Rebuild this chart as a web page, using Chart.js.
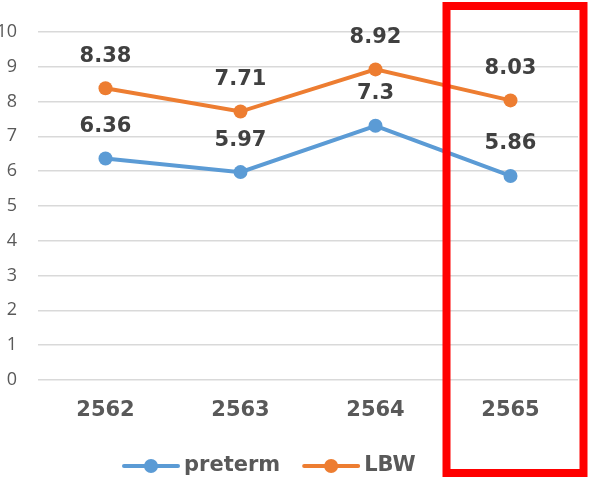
<!DOCTYPE html>
<html>
<head>
<meta charset="utf-8">
<script src="https://cdn.jsdelivr.net/npm/chart.js@4.4.1/dist/chart.umd.min.js"></script>
<style>
  html, body { margin: 0; padding: 0; background: #ffffff; }
  #wrap { width: 589px; height: 482px; position: relative; }
</style>
</head>
<body>
<div id="wrap"><canvas id="c" width="589" height="482"></canvas></div>
<script>
// Years (Buddhist era) and rates per series
const years = ['2562', '2563', '2564', '2565'];
const preterm = [6.36, 5.97, 7.3, 5.86];
const lbw = [8.38, 7.71, 8.92, 8.03];
const yTicks = [0, 1, 2, 3, 4, 5, 6, 7, 8, 9, 10];

const BLUE = '#5B9BD5';
const ORANGE = '#ED7D31';
const TEXT = '#595959';
const BOLD_FONT = '"DejaVu Sans", Verdana, sans-serif';
const TICK_FONT = '"Open Sans", "Liberation Sans", sans-serif';

// Value labels above each point
const valueLabels = {
  id: 'valueLabels',
  afterDatasetsDraw(chart) {
    const ctx = chart.ctx;
    ctx.save();
    ctx.font = 'bold 21px ' + BOLD_FONT;
    ctx.fillStyle = '#404040';
    ctx.textAlign = 'center';
    ctx.textBaseline = 'middle';
    chart.data.datasets.forEach((ds, i) => {
      chart.getDatasetMeta(i).data.forEach((pt, j) => {
        ctx.fillText(String(ds.data[j]), pt.x, pt.y - 32);
      });
    });
    ctx.restore();
  }
};

// Legend below the axis: line-with-dot symbol followed by the series name
const bottomLegend = {
  id: 'bottomLegend',
  afterDraw(chart) {
    const ctx = chart.ctx;
    const y = chart.height - 16;
    let x = chart.chartArea.left + 86;
    ctx.save();
    ctx.font = 'bold 21px ' + BOLD_FONT;
    ctx.textBaseline = 'middle';
    ctx.textAlign = 'left';
    chart.data.datasets.forEach((ds, i) => {
      const c = ds.borderColor;
      ctx.strokeStyle = c;
      ctx.lineWidth = 4;
      ctx.lineCap = 'round';
      ctx.beginPath(); ctx.moveTo(x, y); ctx.lineTo(x + 54, y); ctx.stroke();
      ctx.fillStyle = c;
      ctx.beginPath(); ctx.arc(x + 27, y, 7, 0, Math.PI * 2); ctx.fill();
      x += 54 + 6;
      ctx.fillStyle = TEXT;
      ctx.fillText(ds.label, x, y);
      x += ctx.measureText(ds.label).width + 24;
    });
    ctx.restore();
  }
};

// Highlight frame around the last year
const highlight = {
  id: 'highlight',
  afterDraw(chart) {
    const ctx = chart.ctx;
    const cx = chart.scales.x.getPixelForValue(3);
    ctx.save();
    ctx.strokeStyle = '#FF0000';
    ctx.lineWidth = 8;
    ctx.strokeRect(cx - 64, 6, 137, 467);
    ctx.restore();
  }
};

new Chart(document.getElementById('c'), {
  type: 'line',
  data: {
    labels: years,
    datasets: [
      {
        label: 'preterm',
        data: preterm,
        borderColor: BLUE,
        backgroundColor: BLUE,
        borderWidth: 4,
        pointRadius: 7,
        pointHoverRadius: 7,
        pointBackgroundColor: BLUE,
        pointBorderWidth: 0,
        tension: 0
      },
      {
        label: 'LBW',
        data: lbw,
        borderColor: ORANGE,
        backgroundColor: ORANGE,
        borderWidth: 4,
        pointRadius: 7,
        pointHoverRadius: 7,
        pointBackgroundColor: ORANGE,
        pointBorderWidth: 0,
        tension: 0
      }
    ]
  },
  options: {
    responsive: false,
    animation: false,
    layout: { padding: { left: 0, right: 11, top: 22, bottom: 52 } },
    plugins: {
      tooltip: { enabled: false },
      legend: { display: false }
    },
    scales: {
      x: {
        offset: true,
        grid: { display: false, drawTicks: false },
        border: { display: false },
        ticks: {
          color: TEXT,
          padding: 18,
          font: { family: BOLD_FONT, size: 21, weight: 'bold' }
        },
        afterFit(s) { s.height = 50; }
      },
      y: {
        min: 0,
        max: 10,
        afterBuildTicks(s) { s.ticks = yTicks.map(v => ({ value: v })); },
        grid: { color: '#D9D9D9', lineWidth: 1.5, drawTicks: false },
        border: { display: false },
        ticks: {
          color: TEXT,
          padding: 21,
          font: { family: TICK_FONT, size: 18 }
        },
        afterFit(s) { s.width = 38; }
      }
    }
  },
  plugins: [valueLabels, bottomLegend, highlight]
});
</script>
</body>
</html>
